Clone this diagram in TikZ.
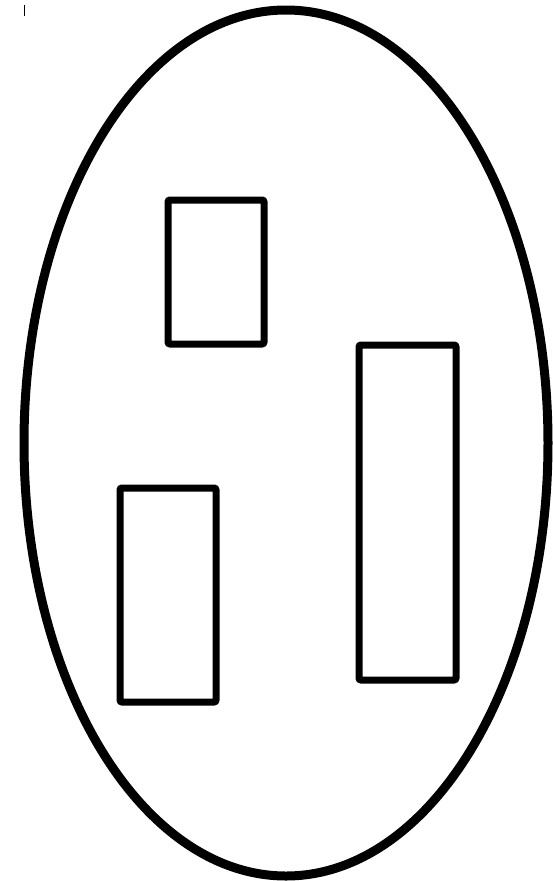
\documentclass[tikz,border=0pt]{standalone}
\usepackage{tikz}
\usetikzlibrary{positioning, calc}

\begin{document}
\begin{tikzpicture}[
  x=1pt, y=-1pt,
  outline/.style={draw=black, line width=9pt},
  cell/.style={draw=black, line width=7pt, rounded corners=2pt, fill=white},
]

% =====================================================================
% Page frame (552 x 881)
% =====================================================================
\useasboundingbox (0,0) rectangle (552,881);

% tiny tick top left
\draw[black, line width=1pt] (24,5) -- (24,16);

% =====================================================================
% Outer ellipse
% =====================================================================
\pgfmathsetmacro{\eCx}{286}
\pgfmathsetmacro{\eCy}{443}
\coordinate (body) at (\eCx, \eCy);
\draw[outline] (body) ellipse [x radius=262, y radius=433];

% =====================================================================
% Boxes inside
% =====================================================================
\foreach \name/\xL/\yT/\xR/\yB in {boxA/168/200/264/344,
                                    boxB/359/345/456/680,
                                    boxC/120/488/216/702}{
  \draw[cell] (\xL,\yT) rectangle (\xR,\yB);
  \coordinate (\name) at ({(\xL+\xR)/2}, {(\yT+\yB)/2});
}

\end{tikzpicture}
\end{document}
